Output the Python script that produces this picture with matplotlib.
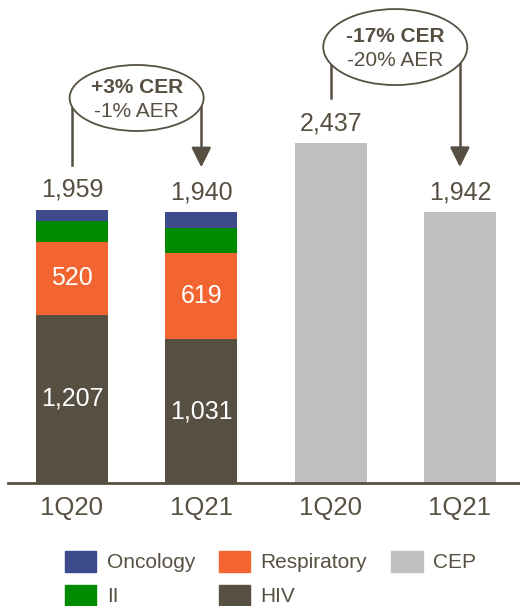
import matplotlib.pyplot as plt
from matplotlib.patches import Ellipse, Patch

plt.rcParams['font.family'] = ['Liberation Sans', 'DejaVu Sans']

# 数据
periods = ['1Q20', '1Q21', '1Q20', '1Q21']
hiv = [1207, 1031]
respiratory = [520, 619]
ii = [148, 175]
oncology = [84, 115]
cep = [2437, 1942]
cer_labels = ['+3% CER', '-17% CER']
aer_labels = ['-1% AER', '-20% AER']

TXT = '#575042'
C_ONC = '#3D4A8C'
C_RESP = '#F26531'
C_II = '#008A00'
C_HIV = '#574F41'
C_CEP = '#C0C0C0'

fig = plt.figure(figsize=(5.2, 6.06), dpi=100)
ax = fig.add_axes([0, 0, 1, 1])
px = 0.1395          # 每单位像素
step = 129.3         # 柱间距（像素）
ax.set_xlim(-72 / step, (520 - 72) / step)
ax.set_ylim(-123 / px, 483 / px)
ax.axis('off')
w = 72 / step

# 堆叠柱
x_stack = [0, 1]
b = [0, 0]
for vals, col in [(hiv, C_HIV), (respiratory, C_RESP), (ii, C_II), (oncology, C_ONC)]:
    ax.bar(x_stack, vals, width=w, bottom=b, color=col, linewidth=0)
    b = [b[i] + vals[i] for i in range(2)]
totals = b

# 段内数值
for i in range(2):
    ax.text(x_stack[i], hiv[i] / 2, f'{hiv[i]:,}', ha='center', va='center',
            color='white', fontsize=18)
    ax.text(x_stack[i], hiv[i] + respiratory[i] / 2, f'{respiratory[i]:,}',
            ha='center', va='center', color='white', fontsize=18)

# CEP柱
x_cep = [2, 3]
ax.bar(x_cep, cep, width=w, color=C_CEP, linewidth=0)

all_x = x_stack + x_cep
all_tot = totals + cep
for xi, t in zip(all_x, all_tot):
    ax.text(xi, t + 143, f'{t:,}', ha='center', va='center', color=TXT, fontsize=18)

# 底线和横轴标签
ax.axhline(0, xmin=8 / 520, xmax=1, color=TXT, lw=2)
for xi, lab in zip(all_x, periods):
    ax.text(xi, -25 / px, lab, ha='center', va='center', color=TXT, fontsize=18.5)

# 增长率气泡与箭头
bubbles = [(0, 1, 2760, 134, 66), (2, 3, 3125, 144, 76)]
for k, (a, c, cy, ew, eh) in enumerate(bubbles):
    ta, tc = all_tot[a], all_tot[c]
    ax.plot([a, a], [ta + 320, cy], color=TXT, lw=1.8, zorder=2)
    ax.plot([c, c], [cy, tc + 420], color=TXT, lw=1.8, zorder=2)
    ax.annotate('', xy=(c, tc + 323), xytext=(c, tc + 460),
                arrowprops=dict(arrowstyle='-|>,head_length=0.6,head_width=0.3',
                                mutation_scale=20, color=TXT, lw=1.8,
                                shrinkA=0, shrinkB=0), zorder=2)
    cx = (a + c) / 2
    ax.add_patch(Ellipse((cx, cy), ew / step, eh / px, facecolor='white',
                         edgecolor=TXT, lw=1.3, zorder=3))
    ax.text(cx, cy + 5 / px, cer_labels[k], ha='center', va='baseline', color=TXT,
            fontsize=15, fontweight='bold', zorder=4)
    ax.text(cx, cy - 19 / px, aer_labels[k], ha='center', va='baseline', color=TXT,
            fontsize=15, zorder=4)

# 图例
handles = [Patch(color=C_ONC, label='Oncology'), Patch(color=C_II, label='II'),
           Patch(color=C_RESP, label='Respiratory'), Patch(color=C_HIV, label='HIV'),
           Patch(color=C_CEP, label='CEP')]
fig.legend(handles=handles, ncol=3, loc='upper left',
           bbox_to_anchor=(65 / 520, 1 - 551 / 606), frameon=False, fontsize=15,
           handlelength=1.5, handleheight=1.15, handletextpad=0.5,
           columnspacing=1.15, labelspacing=0.6, borderpad=0, borderaxespad=0,
           labelcolor=TXT)

fig.savefig('out.png', dpi=100)
